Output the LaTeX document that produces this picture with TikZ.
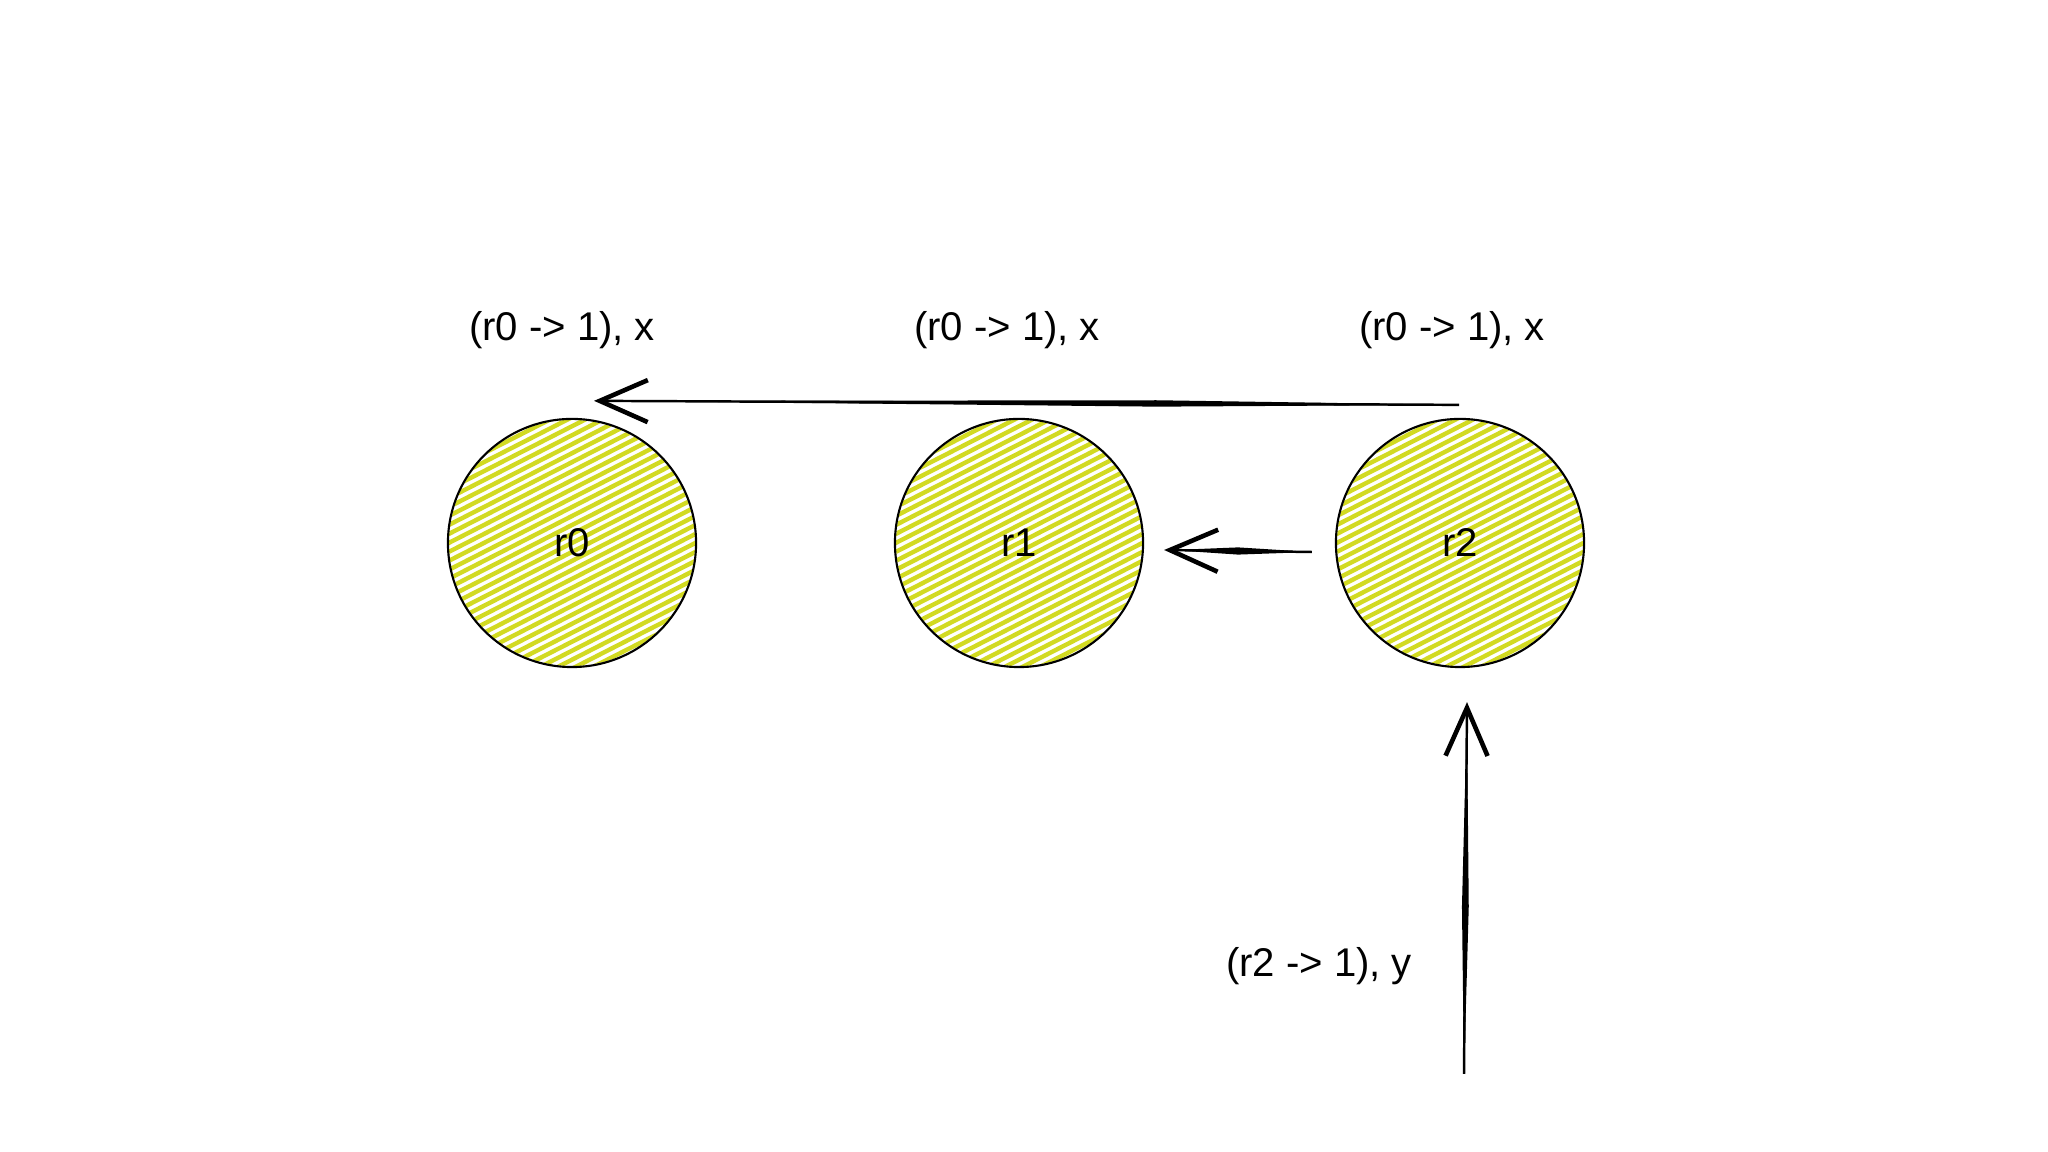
\documentclass[tikz,border=0pt]{standalone}
\usepackage{fontspec}
\setmainfont{Liberation Sans}
\usetikzlibrary{arrows.meta,calc,backgrounds}
\definecolor{hatchyellow}{RGB}{210,218,34}
\tikzset{
  room/.style={circle,draw=black,line width=0.6pt,minimum size=2.48cm,inner sep=0pt,
    font=\fontsize{11.4}{13}\selectfont},
  lbl/.style={font=\fontsize{11.4}{13}\selectfont,inner sep=0pt},
  hatch/.style={draw=hatchyellow,line width=1.25pt,line cap=round},
  conn/.style={draw=black,line width=0.7pt,-{Straight Barb[length=0.48cm,width=0.42cm,line width=1.3pt]}},
}
\begin{document}
\begin{tikzpicture}[x=0.01cm,y=0.01cm]
\useasboundingbox (0,0) rectangle (2048,1152);

\node[room] (r0) at (572,609) {\raisebox{-0.07cm}{r0}};
\node[room] (r1) at (1019,609) {\raisebox{-0.07cm}{r1}};
\node[room] (r2) at (1460,609) {\raisebox{-0.07cm}{r2}};

\begin{pgfonlayer}{background}
\fill[white] (0,0) rectangle (2048,1152);
\foreach \n in {r0,r1,r2}{
  \begin{scope}
    \clip (\n.center) circle (1.23cm);
    \begin{scope}[shift={(\n.center)},rotate=27]
      \foreach \k in {-16,...,16}{
        \draw[hatch] (-140,\k*8) -- (140,\k*8);
      }
    \end{scope}
  \end{scope}
}
\end{pgfonlayer}

\node[lbl] (l0) at (562,822) {(r0 -> 1), x};
\node[lbl] (l1) at (1007,822) {(r0 -> 1), x};
\node[lbl] (l2) at (1452,822) {(r0 -> 1), x};
\node[lbl] (l3) at (1319,186) {(r2 -> 1), y};

\coordinate (s1) at ([xshift=-0.01cm,yshift=0.13cm]r2.north);
\coordinate (e1) at ([xshift=0.22cm,yshift=0.17cm]r0.north);
\coordinate (s2) at ([xshift=-0.23cm,yshift=-0.09cm]r2.west);
\coordinate (e2) at ([xshift=0.2cm,yshift=-0.07cm]r1.east);
\coordinate (s3) at (1464,78);
\coordinate (e3) at ([xshift=0.07cm,yshift=-0.34cm]r2.south);

\fill (s1) -- ($(s1)!0.35!(e1)+(0,3.2)$) -- ($(s1)!0.97!(e1)$) -- ($(s1)!0.35!(e1)+(0,-3.2)$) -- cycle;
\draw[conn] (s1) -- (e1);
\fill (s2) -- ($(s2)!0.5!(e2)+(0,3.6)$) -- ($(s2)!0.95!(e2)$) -- ($(s2)!0.5!(e2)+(0,-3.6)$) -- cycle;
\draw[conn] (s2) -- (e2);
\fill (s3) -- ($(s3)!0.45!(e3)+(3.4,0)$) -- ($(s3)!0.97!(e3)$) -- ($(s3)!0.45!(e3)+(-3.4,0)$) -- cycle;
\draw[conn] (s3) -- (e3);
\end{tikzpicture}
\end{document}
